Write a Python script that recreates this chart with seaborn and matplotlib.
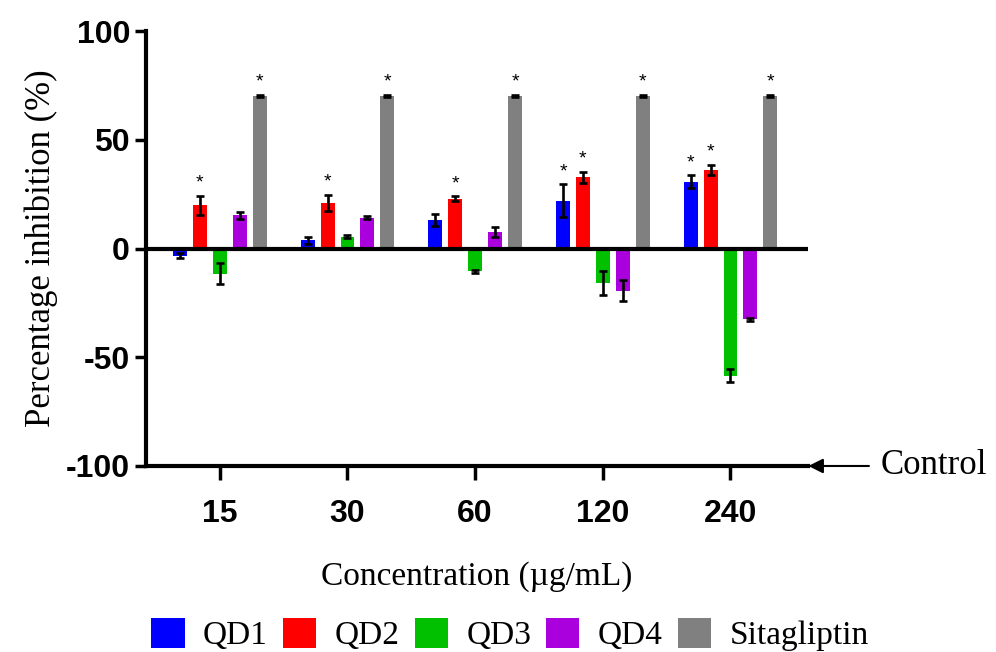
import pandas as pd
import seaborn as sns
import matplotlib.pyplot as plt

# Dados
concentracoes = ["15", "30", "60", "120", "240"]
compostos = ["QD1", "QD2", "QD3", "QD4", "Sitagliptin"]
cores = ["#0000FF", "#FF0000", "#00C000", "#AA00DD", "#808080"]

qd1 = [-3.2, 3.7, 13.3, 22.0, 30.8]
qd2 = [19.8, 21.1, 23.0, 32.7, 36.3]
qd3 = [-11.5, 5.5, -10.5, -16.0, -58.4]
qd4 = [15.2, 14.2, 7.8, -19.3, -32.6]
sita = [70.2, 70.2, 70.2, 70.2, 70.2]

qd1_err = [1.0, 1.5, 2.8, 7.5, 2.8]
qd2_err = [4.4, 3.7, 1.0, 2.5, 2.3]
qd3_err = [4.8, 0.5, 0.7, 5.5, 2.8]
qd4_err = [1.8, 0.8, 2.3, 4.8, 0.7]
sita_err = [0.6, 0.6, 0.6, 0.6, 0.6]

# marcação de significância (*)
qd1_sig = [False, False, False, True, True]
qd2_sig = [True, True, True, True, True]
qd3_sig = [False, False, False, False, False]
qd4_sig = [False, False, False, False, False]
sita_sig = [True, True, True, True, True]


def montar_df():
    valores = [qd1, qd2, qd3, qd4, sita]
    erros = [qd1_err, qd2_err, qd3_err, qd4_err, sita_err]
    sigs = [qd1_sig, qd2_sig, qd3_sig, qd4_sig, sita_sig]
    linhas = []
    for comp, v, e, s in zip(compostos, valores, erros, sigs):
        for c, vi, ei, si in zip(concentracoes, v, e, s):
            linhas.append({"Concentracao": c, "Composto": comp,
                           "Inibicao": vi, "Erro": ei, "Sig": si})
    return pd.DataFrame(linhas)


def grafico(df):
    sns.set_style("ticks")
    plt.rcParams['font.family'] = ['Liberation Serif', 'DejaVu Serif']
    plt.rcParams['axes.unicode_minus'] = False
    plt.rcParams['text.color'] = 'black'
    plt.rcParams['axes.labelcolor'] = 'black'
    plt.rcParams['xtick.color'] = 'black'
    plt.rcParams['ytick.color'] = 'black'

    fig = plt.figure(figsize=(9.96, 6.52), dpi=100)
    ax = fig.add_axes([0.1466, 0.2853, 0.665, 0.667])

    sns.barplot(data=df, x="Concentracao", y="Inibicao", hue="Composto",
                order=concentracoes, hue_order=compostos, palette=cores,
                errorbar=None, width=0.78, gap=0.3, saturation=1,
                linewidth=0, ax=ax, legend=True)

    # barras de erro e asteriscos a partir das barras desenhadas
    for comp, cont in zip(compostos, ax.containers):
        sub = df[df["Composto"] == comp].set_index("Concentracao").loc[concentracoes]
        for patch, (_, row) in zip(cont.patches, sub.iterrows()):
            xc = patch.get_x() + patch.get_width() / 2
            ax.errorbar(xc, row["Inibicao"], yerr=row["Erro"], fmt="none",
                        ecolor="black", elinewidth=1.9, capsize=3, capthick=1.9,
                        zorder=3)
            if row["Sig"]:
                ax.annotate("*", (xc, row["Inibicao"] + row["Erro"]),
                            xytext=(0, 3), textcoords="offset points",
                            ha="center", va="bottom", fontsize=14,
                            family="Liberation Sans")

    ax.axhline(0, color="black", lw=3, zorder=4)
    ax.set_ylim(-100, 100)
    ax.set_xlim(-0.578, 4.61)
    ax.set_yticks([-100, -50, 0, 50, 100])

    for s in ["top", "right"]:
        ax.spines[s].set_visible(False)
    for s in ["left", "bottom"]:
        ax.spines[s].set_linewidth(3)
        ax.spines[s].set_color("black")

    ax.tick_params(axis="both", width=2.5, length=8, color="black")
    ax.tick_params(axis="x", length=10, pad=14)
    for lab in ax.get_xticklabels() + ax.get_yticklabels():
        lab.set_family("Liberation Sans")
        lab.set_fontweight("bold")
        lab.set_fontsize(23)
        lab.set_color("black")

    ax.set_xlabel("Concentration (µg/mL)", fontsize=24, labelpad=23)
    ax.set_ylabel("Percentage inhibition (%)", fontsize=25, labelpad=6)

    ax.annotate("Control", xy=(1.0, 0.0), xycoords="axes fraction",
                xytext=(52, 0), textcoords="offset points",
                ha="left", va="center", fontsize=25,
                arrowprops=dict(arrowstyle="-|>", color="black", lw=1.5,
                                mutation_scale=22, shrinkA=6, shrinkB=0))

    handles, labels = ax.get_legend_handles_labels()
    ax.get_legend().remove()
    fig.legend(handles, labels, loc="lower center", bbox_to_anchor=(0.512, -0.045),
               ncol=5, frameon=False, fontsize=24, handlelength=1.0,
               handleheight=1.0, handletextpad=0.55, columnspacing=0.45)

    fig.savefig("out.png", dpi=100)
    plt.close(fig)


def main():
    df = montar_df()
    grafico(df)


if __name__ == '__main__':
    main()
